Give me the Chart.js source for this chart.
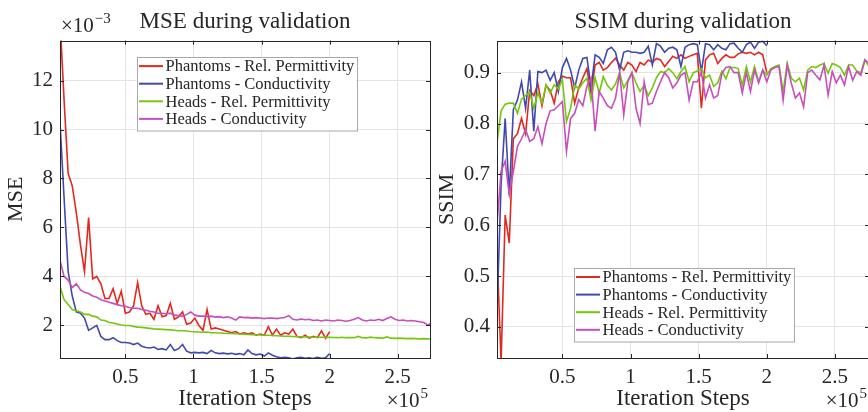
<!DOCTYPE html>
<html>
<head>
<meta charset="utf-8">
<title>Validation curves</title>
<script src="https://cdn.jsdelivr.net/npm/chart.js"></script>
<style>
    html, body { margin: 0; padding: 0; background: #fff; overflow: hidden; }
    #wrap { position: relative; width: 868px; height: 412px; overflow: hidden; }
    .plot { position: absolute; top: 0; height: 412px; }
    #msePlot { left: 0; width: 434px; }
    #ssimPlot { left: 434px; width: 440px; }
</style>
</head>
<body>
<div id="wrap">
    <div class="plot" id="msePlot"><canvas id="mseChart" width="434" height="412"></canvas></div>
    <div class="plot" id="ssimPlot"><canvas id="ssimChart" width="440" height="412"></canvas></div>
</div>
<script>
// validation steps, in thousands of iterations (phantoms stop at 200k)
const steps = [2, 5, 8, 11, 14, 17, 20, 23, 26, 29, 32, 35, 38, 41, 44, 47, 50, 53, 56, 59,
    62, 65, 68, 71, 74, 77, 80, 83, 86, 89, 92, 95, 98, 101, 104, 107, 110, 113, 116, 119,
    122, 125, 128, 131, 134, 137, 140, 143, 146, 149, 152, 155, 158, 161, 164, 167, 170, 173, 176, 179,
    182, 185, 188, 191, 194, 197, 200, 203, 206, 209, 212, 215, 218, 221, 224, 227, 230, 233, 236, 239,
    242, 245, 248, 251, 254, 257, 260, 263, 266, 269, 272, 275];

const seriesLabels = ['Phantoms - Rel. Permittivity', 'Phantoms - Conductivity',
    'Heads - Rel. Permittivity', 'Heads - Conductivity'];
const seriesColors = ['#e2291f', '#3f4aac', '#74c70c', '#c84ebd'];

const xTicks = [50, 100, 150, 200, 250];
const mseTicks = [2, 4, 6, 8, 10, 12];
const ssimTicks = [0.4, 0.5, 0.6, 0.7, 0.8, 0.9];

// MSE in units of 1e-3
const mseRelPhantoms = [14.5, 11.2, 8.2, 7.7, 6.6, 5.3, 4.2, 6.4, 3.9, 4.0,
    3.7, 3.1, 3.1, 3.5, 2.9, 3.4, 2.5, 2.55, 2.8, 3.75,
    2.8, 2.45, 2.5, 2.25, 2.8, 2.35, 2.4, 2.9, 2.25, 2.35,
    2.55, 2.05, 2.1, 2.3, 2.0, 1.8, 2.65, 1.85, 1.9, 1.85,
    1.8, 1.75, 1.7, 1.75, 1.65, 1.7, 1.65, 1.7, 1.6, 1.65,
    1.6, 1.95, 1.6, 1.85, 1.6, 1.7, 1.65, 1.85, 1.55, 1.5,
    1.6, 1.48, 1.55, 1.5, 1.78, 1.47, 1.75];
const mseCondPhantoms = [10.3, 7.2, 4.2, 3.2, 2.55, 2.5, 2.3, 1.8, 1.9, 2.0,
    1.55, 1.42, 1.42, 1.5, 1.38, 1.3, 1.3, 1.28, 1.22, 1.28,
    1.15, 1.1, 1.08, 1.12, 1.02, 1.05, 1.0, 1.22, 0.98, 1.05,
    1.22, 0.95, 0.88, 0.9, 0.88, 0.9, 0.85, 0.98, 0.88, 0.85,
    0.87, 0.84, 0.86, 0.82, 0.85, 0.8, 1.0, 0.85, 0.8, 0.83,
    0.75, 0.88, 0.78, 0.72, 0.68, 0.7, 0.68, 0.63, 0.68, 0.7,
    0.66, 0.68, 0.65, 0.7, 0.66, 0.68, 0.85];
const mseRelHeads = [3.6, 3.05, 2.85, 2.65, 2.6, 2.55, 2.45, 2.45, 2.38, 2.35,
    2.22, 2.2, 2.12, 2.1, 2.06, 2.02, 2.0, 2.0, 1.96, 1.93,
    1.92, 1.9, 1.88, 1.86, 1.85, 1.84, 1.83, 1.82, 1.8, 1.78,
    1.78, 1.77, 1.75, 1.74, 1.73, 1.72, 1.73, 1.7, 1.7, 1.69,
    1.68, 1.67, 1.67, 1.66, 1.65, 1.64, 1.63, 1.62, 1.62, 1.61,
    1.6, 1.6, 1.59, 1.58, 1.57, 1.56, 1.56, 1.55, 1.54, 1.54,
    1.53, 1.53, 1.52, 1.52, 1.52, 1.51, 1.52, 1.51, 1.5, 1.52,
    1.5, 1.5, 1.5, 1.55, 1.5, 1.49, 1.52, 1.5, 1.49, 1.48,
    1.53, 1.48, 1.47, 1.48, 1.47, 1.46, 1.47, 1.46, 1.45, 1.46,
    1.45, 1.44];
const mseCondHeads = [4.65, 4.0, 3.85, 3.55, 3.7, 3.45, 3.35, 3.3, 3.2, 3.15,
    3.05, 3.0, 2.95, 2.9, 2.85, 2.8, 2.78, 2.72, 2.7, 2.7,
    2.65, 2.62, 2.58, 2.55, 2.5, 2.5, 2.48, 2.5, 2.42, 2.4,
    2.38, 2.45, 2.55, 2.42, 2.38, 2.38, 2.36, 2.38, 2.34, 2.36,
    2.32, 2.35, 2.3, 2.22, 2.35, 2.32, 2.33, 2.3, 2.32, 2.3,
    2.28, 2.3, 2.3, 2.28, 2.3, 2.32, 2.4, 2.25, 2.22, 2.26,
    2.23, 2.25, 2.2, 2.22, 2.18, 2.22, 2.2, 2.18, 2.22, 2.2,
    2.17, 2.2, 2.25, 2.32, 2.22, 2.18, 2.22, 2.2, 2.25, 2.2,
    2.28, 2.35, 2.25, 2.2, 2.22, 2.18, 2.2, 2.18, 2.15, 2.12,
    2.02, 2.1];

const ssimRelPhantoms = [0.55, 0.33, 0.62, 0.565, 0.77, 0.78, 0.81, 0.78, 0.865, 0.855,
    0.878, 0.835, 0.875, 0.865, 0.84, 0.882, 0.893, 0.89, 0.89, 0.84,
    0.87, 0.89, 0.908, 0.86, 0.915, 0.92, 0.905, 0.91, 0.92, 0.928,
    0.915, 0.905, 0.92, 0.915, 0.902, 0.92, 0.915, 0.925, 0.92, 0.928,
    0.925, 0.912, 0.922, 0.932, 0.928, 0.935, 0.928, 0.932, 0.935, 0.938,
    0.83, 0.925, 0.935, 0.938, 0.918, 0.928, 0.935, 0.93, 0.93, 0.937,
    0.94, 0.938, 0.94, 0.935, 0.94, 0.935, 0.90];
const ssimCondPhantoms = [0.43, 0.68, 0.81, 0.66, 0.827, 0.846, 0.882, 0.83, 0.905, 0.785,
    0.902, 0.9, 0.905, 0.885, 0.9, 0.863, 0.91, 0.928, 0.905, 0.87,
    0.905, 0.928, 0.93, 0.87, 0.935, 0.93, 0.918, 0.945, 0.95, 0.94,
    0.905, 0.94, 0.943, 0.94, 0.94, 0.938, 0.94, 0.952, 0.915, 0.957,
    0.952, 0.94, 0.948, 0.95, 0.945, 0.912, 0.95, 0.955, 0.957, 0.955,
    0.902, 0.957, 0.955, 0.945, 0.955, 0.948, 0.945, 0.957, 0.958, 0.948,
    0.94, 0.955, 0.96, 0.948, 0.96, 0.962, 0.953];
const ssimRelHeads = [0.762, 0.825, 0.838, 0.84, 0.84, 0.82, 0.848, 0.855, 0.862, 0.83,
    0.86, 0.84, 0.876, 0.86, 0.876, 0.868, 0.886, 0.804, 0.83, 0.876,
    0.868, 0.88, 0.889, 0.846, 0.89, 0.86, 0.892, 0.875, 0.866, 0.878,
    0.9, 0.87, 0.885, 0.9, 0.88, 0.863, 0.875, 0.855, 0.87, 0.89,
    0.902, 0.9, 0.908, 0.9, 0.888, 0.902, 0.912, 0.882, 0.9, 0.903,
    0.908, 0.89, 0.895, 0.873, 0.88, 0.903, 0.888, 0.91, 0.91, 0.908,
    0.875, 0.912, 0.882, 0.912, 0.882, 0.905, 0.895, 0.908, 0.912, 0.915,
    0.863, 0.918, 0.889, 0.882, 0.889, 0.866, 0.905, 0.912, 0.91, 0.915,
    0.918, 0.899, 0.918, 0.915, 0.91, 0.895, 0.915, 0.915, 0.903, 0.9,
    0.925, 0.912];
const ssimCondHeads = [0.602, 0.706, 0.726, 0.66, 0.706, 0.755, 0.77, 0.788, 0.765, 0.77,
    0.794, 0.76, 0.8, 0.825, 0.827, 0.835, 0.843, 0.745, 0.81, 0.82,
    0.847, 0.835, 0.873, 0.889, 0.785, 0.863, 0.85, 0.835, 0.83, 0.85,
    0.9, 0.817, 0.882, 0.9, 0.83, 0.8, 0.882, 0.837, 0.84, 0.863,
    0.882, 0.9, 0.89, 0.87, 0.88, 0.895, 0.9, 0.846, 0.882, 0.882,
    0.9, 0.85, 0.876, 0.85, 0.855, 0.898, 0.91, 0.912, 0.9, 0.9,
    0.86, 0.9, 0.863, 0.905, 0.88, 0.905, 0.882, 0.905, 0.91, 0.912,
    0.846, 0.915, 0.879, 0.85, 0.86, 0.833, 0.9, 0.905, 0.895, 0.886,
    0.915, 0.856, 0.902, 0.88, 0.895, 0.876, 0.912, 0.885, 0.902, 0.895,
    0.925, 0.918];

const FONT = "'Liberation Serif', 'Times New Roman', serif";
const INK = '#262626';

function toPoints(values) {
    return values.map((v, i) => ({x: steps[i], y: v}));
}

function makeDatasets(seriesList) {
    return seriesList.map((values, i) => ({
        label: seriesLabels[i],
        data: toPoints(values),
        borderColor: seriesColors[i],
        backgroundColor: seriesColors[i],
        borderWidth: 1.6,
        pointRadius: 0,
        tension: 0,
        fill: false,
        order: seriesList.length - i   // later series on top, like matlab
    }));
}

// box, inward ticks, legend and the x10 exponents
const matlabLook = {
    id: 'matlabLook',
    afterDatasetsDraw(chart, args, opts) {
        const ctx = chart.ctx;
        const a = chart.chartArea;
        const xs = chart.scales.x, ys = chart.scales.y;
        ctx.save();
        ctx.strokeStyle = INK;
        ctx.lineWidth = 1;
        ctx.beginPath();
        xs.ticks.forEach(t => {
            const px = Math.round(xs.getPixelForValue(t.value)) + 0.5;
            ctx.moveTo(px, a.bottom); ctx.lineTo(px, a.bottom - 4);
            ctx.moveTo(px, a.top); ctx.lineTo(px, a.top + 4);
        });
        ys.ticks.forEach(t => {
            const py = Math.round(ys.getPixelForValue(t.value)) + 0.5;
            ctx.moveTo(a.left, py); ctx.lineTo(a.left + 4, py);
            ctx.moveTo(a.right, py); ctx.lineTo(a.right - 4, py);
        });
        ctx.stroke();
        ctx.strokeRect(Math.round(a.left) + 0.5, Math.round(a.top) + 0.5,
            Math.round(a.right - a.left), Math.round(a.bottom - a.top));

        // legend
        const w = 220, h = 73.5;
        const bx = a.left + 76.5;
        const by = opts.legendTop ? a.top + 16.5 : a.bottom - 16.5 - h;
        ctx.fillStyle = '#fff';
        ctx.fillRect(bx, by, w, h);
        ctx.strokeStyle = '#a8a8a8';
        ctx.strokeRect(Math.round(bx) + 0.5, Math.round(by) + 0.5, w, h);
        ctx.font = `16.5px ${FONT}`;
        ctx.textBaseline = 'middle';
        ctx.textAlign = 'left';
        chart.data.datasets.forEach((ds, i) => {
            const ry = by + 9 + 17.6 * i;
            ctx.strokeStyle = ds.borderColor;
            ctx.lineWidth = 2;
            ctx.beginPath();
            ctx.moveTo(bx + 2.5, ry); ctx.lineTo(bx + 26.5, ry);
            ctx.stroke();
            ctx.fillStyle = INK;
            ctx.fillText(ds.label, bx + 29, ry + 1);
        });

        // exponents
        ctx.fillStyle = INK;
        ctx.textBaseline = 'alphabetic';
        const drawExp = (x, y, base, exp, alignRight) => {
            ctx.font = `21px ${FONT}`;
            const bw = ctx.measureText(base).width;
            ctx.font = `15px ${FONT}`;
            const ew = ctx.measureText(exp).width;
            const x0 = alignRight ? x - bw - ew - 1 : x;
            ctx.font = `21px ${FONT}`;
            ctx.fillText(base, x0, y);
            ctx.font = `15px ${FONT}`;
            ctx.fillText(exp, x0 + bw + 1, y - 9);
        };
        drawExp(a.right - 2, 407, '\u00d710', '5', true);
        if (opts.yExp) drawExp(a.left + 1, 32, '\u00d710', opts.yExp, false);
        ctx.restore();
    }
};

function makeChart(canvasId, cfg) {
    const ctx = document.getElementById(canvasId).getContext('2d');
    return new Chart(ctx, {
        type: 'line',
        data: {datasets: makeDatasets(cfg.series)},
        options: {
            responsive: false,
            animation: false,
            events: [],
            layout: {padding: {left: 0, right: cfg.padRight, top: 0, bottom: 0}},
            plugins: {
                legend: {display: false},
                tooltip: {enabled: false},
                title: {
                    display: true,
                    fullSize: false,
                    text: cfg.title,
                    color: INK,
                    font: {family: FONT, size: 23, weight: 'normal'},
                    padding: {top: 8, bottom: 5}
                },
                matlabLook: {legendTop: cfg.legendTop, yExp: cfg.yExp}
            },
            scales: {
                x: {
                    type: 'linear',
                    min: cfg.xMin,
                    max: cfg.xMax,
                    afterBuildTicks: s => { s.ticks = xTicks.map(v => ({value: v})); },
                    afterFit: s => { s.height = 54; },
                    border: {display: false},
                    grid: {color: '#e4e4e4', drawTicks: false},
                    ticks: {
                        color: INK,
                        font: {family: FONT, size: 21},
                        padding: 7,
                        maxRotation: 0,
                        autoSkip: false,
                        callback: v => String(v / 100)
                    },
                    title: {
                        display: true,
                        text: 'Iteration Steps',
                        color: INK,
                        font: {family: FONT, size: 23},
                        padding: {top: 0, bottom: -1}
                    }
                },
                y: {
                    type: 'linear',
                    min: cfg.yMin,
                    max: cfg.yMax,
                    afterBuildTicks: s => { s.ticks = cfg.yTicks.map(v => ({value: v})); },
                    afterFit: s => { s.width = cfg.yWidth; },
                    border: {display: false},
                    grid: {color: '#e4e4e4', drawTicks: false},
                    ticks: {
                        color: INK,
                        font: {family: FONT, size: 21},
                        padding: 7,
                        autoSkip: false,
                        callback: cfg.yLabel
                    },
                    title: {
                        display: true,
                        text: cfg.yTitle,
                        color: INK,
                        font: {family: FONT, size: 22},
                        padding: {top: cfg.yTitlePad, bottom: 0}
                    }
                }
            }
        },
        plugins: [matlabLook]
    });
}

makeChart('mseChart', {
    series: [mseRelPhantoms, mseCondPhantoms, mseRelHeads, mseCondHeads],
    title: 'MSE during validation',
    yTitle: 'MSE',
    xMin: 2, xMax: 273.7,
    yMin: 0.67, yMax: 13.63,
    yTicks: mseTicks,
    yLabel: v => String(v),
    yWidth: 60,
    yTitlePad: 3,
    padRight: 4,
    legendTop: true,
    yExp: '\u22123'
});

makeChart('ssimChart', {
    series: [ssimRelPhantoms, ssimCondPhantoms, ssimRelHeads, ssimCondHeads],
    title: 'SSIM during validation',
    yTitle: 'SSIM',
    xMin: 2, xMax: 275,
    yMin: 0.339, yMax: 0.963,
    yTicks: ssimTicks,
    yLabel: v => v.toFixed(1),
    yWidth: 63,
    yTitlePad: 0,
    padRight: 5,
    legendTop: false,
    yExp: null
});
</script>
</body>
</html>
